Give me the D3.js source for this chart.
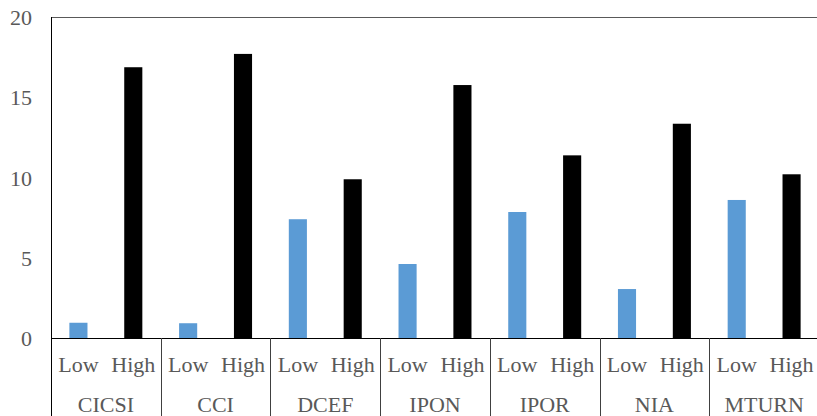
<!DOCTYPE html>
<html>
<head>
<meta charset="utf-8">
<script src="https://cdn.jsdelivr.net/npm/d3@7"></script>
<style>
  html, body { margin: 0; padding: 0; background: #fff; }
  svg { display: block; }
</style>
</head>
<body>
<svg id="chart" width="817" height="416"></svg>
<script>
const categories = ["CICSI", "CCI", "DCEF", "IPON", "IPOR", "NIA", "MTURN"];
const levels = ["Low", "High"];
const lowValues  = [0.95, 0.92, 7.40, 4.61, 7.85, 3.05, 8.60];
const highValues = [16.87, 17.70, 9.89, 15.76, 11.38, 13.35, 10.20];
const yTicks = [0, 5, 10, 15, 20];

(function () {
const svg = d3.select("#chart");
const mLeft = 51, mRight = 819, mTop = 17, mBase = 338, mBottom = 416;
const textColor = "#595959";
const fs = "22px";
const ff = "\"Liberation Serif\"";

const x0 = d3.scaleBand().domain(categories).range([mLeft, mRight]).padding(0);
const x1 = d3.scaleBand().domain(levels).range([0, x0.bandwidth()])
  .paddingInner(0.67).paddingOuter(0.335);
const y = d3.scaleLinear().domain([0, 20]).range([mBase, mTop]);

const colors = { Low: "#5b9bd5", High: "#000000" };

const data = categories.map((c, i) => ({ cat: c, Low: lowValues[i], High: highValues[i] }));

// bars
const g = svg.append("g");
data.forEach(d => {
  levels.forEach(l => {
    g.append("rect")
      .attr("x", x0(d.cat) + x1(l))
      .attr("y", y(d[l]))
      .attr("width", x1.bandwidth())
      .attr("height", mBase - y(d[l]))
      .attr("fill", colors[l]);
  });
});

// frame lines
svg.append("line").attr("x1", mLeft).attr("x2", 817).attr("y1", mTop + 0.5).attr("y2", mTop + 0.5)
  .attr("stroke", "#595959").attr("stroke-width", 1);
svg.append("line").attr("x1", mLeft + 0.5).attr("x2", mLeft + 0.5).attr("y1", mTop).attr("y2", mBottom)
  .attr("stroke", "#000").attr("stroke-width", 1);
svg.append("line").attr("x1", mLeft).attr("x2", 817).attr("y1", mBase + 0.5).attr("y2", mBase + 0.5)
  .attr("stroke", "#000").attr("stroke-width", 1.2);

// group dividers
categories.slice(1).forEach(c => {
  const xx = Math.round(x0(c)) + 0.5;
  svg.append("line").attr("x1", xx).attr("x2", xx).attr("y1", mBase).attr("y2", mBottom)
    .attr("stroke", "#404040").attr("stroke-width", 1);
});

// y axis
const yAxis = d3.axisLeft(y).tickValues(yTicks).tickSize(0).tickPadding(0).tickFormat(d3.format("d"));
const ya = svg.append("g").attr("transform", `translate(32,0)`).call(yAxis);
ya.select(".domain").remove();
ya.selectAll("text").style("font-family", ff).style("font-size", fs)
  .attr("fill", textColor).attr("dy", "0.35em");

// level labels
data.forEach(d => {
  levels.forEach(l => {
    svg.append("text")
      .attr("x", x0(d.cat) + x1(l) + x1.bandwidth() / 2)
      .attr("y", 364)
      .attr("dy", "0.35em")
      .attr("text-anchor", "middle")
      .style("font-family", ff).style("font-size", fs).attr("fill", textColor)
      .text(l);
  });
  svg.append("text")
    .attr("x", x0(d.cat) + x0.bandwidth() / 2)
    .attr("y", 404)
    .attr("dy", "0.35em")
    .attr("text-anchor", "middle")
    .style("font-family", ff).style("font-size", fs).attr("fill", textColor)
    .text(d.cat);
});
})();
</script>
</body>
</html>
